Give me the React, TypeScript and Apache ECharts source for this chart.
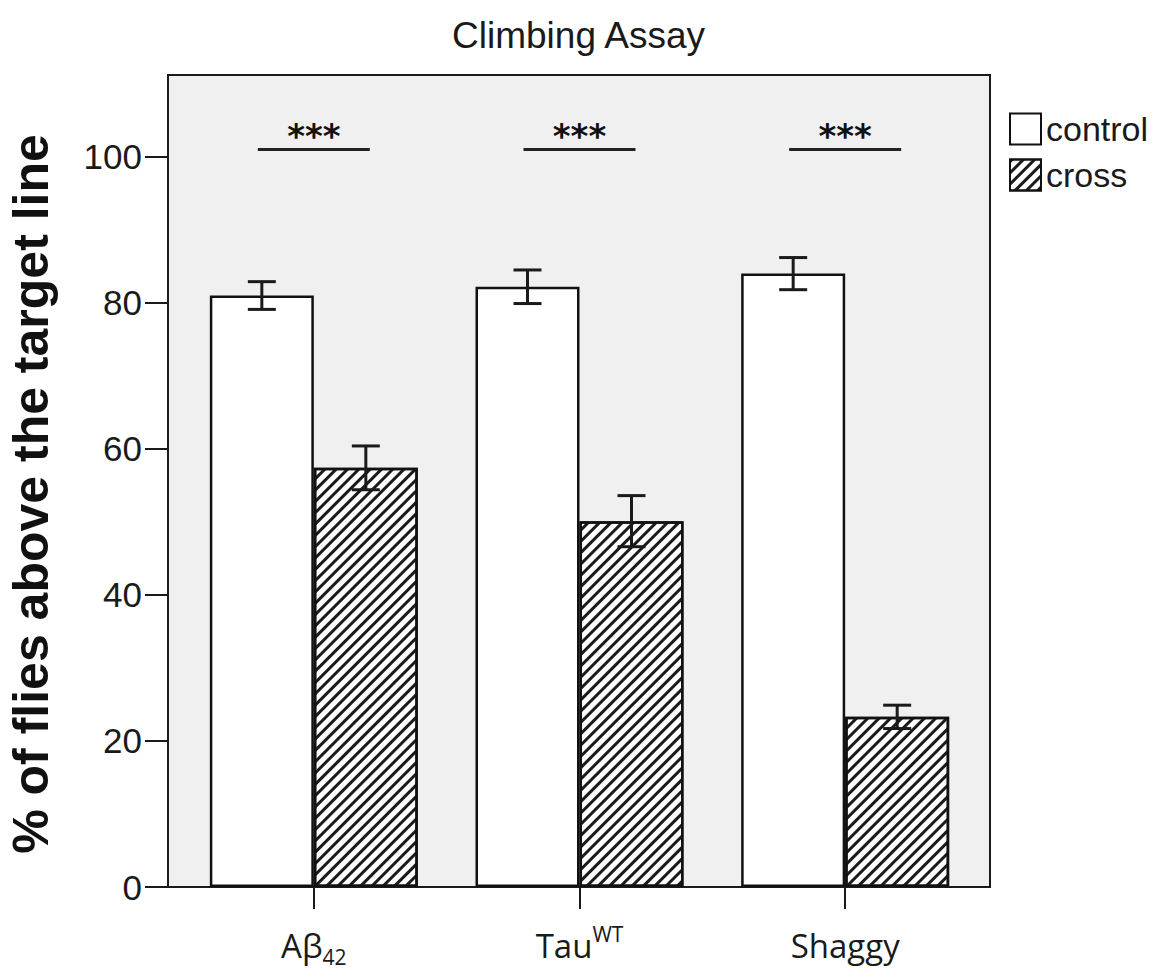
import React, { useEffect, useRef } from "react";
import * as echarts from "echarts";

const categories = ["Aβ42", "TauWT", "Shaggy"];
const controlValues = [81.0, 82.2, 84.0];
const controlErrors = [1.9, 2.3, 2.2];
const crossValues = [57.4, 50.1, 23.3];
const crossErrors = [3.0, 3.5, 1.6];
const significance = ["***", "***", "***"];
const sigLevel = 101;
const yTicks = [0, 20, 40, 60, 80, 100];

const labelRich: Record<string, string> = {
  "Aβ42": "Aβ{sub|42}",
  "TauWT": "Tau{sup|WT}",
  "Shaggy": "Shaggy",
};

const BAR_W = 104;

export default function App() {
  const ref = useRef<HTMLDivElement>(null);
  useEffect(() => {
    if (!ref.current) return;
    const chart = echarts.init(ref.current, undefined, { renderer: "svg" });
    const ink = "#1a1a1a";
    const errData: any[] = [];
    categories.forEach((_, i) => {
      errData.push([i, controlValues[i] - controlErrors[i], controlValues[i] + controlErrors[i], -1]);
      errData.push([i, crossValues[i] - crossErrors[i], crossValues[i] + crossErrors[i], 1]);
    });
    const sigData = categories.map((_, i) => [i, sigLevel]);

    chart.setOption({
      animation: false,
      backgroundColor: "#ffffff",
      title: {
        text: "Climbing Assay",
        left: "center",
        top: 12,
        textStyle: {
          fontFamily: "'Liberation Sans', Arial, sans-serif",
          fontSize: 37,
          fontWeight: "normal",
          color: ink,
        },
      },
      legend: {
        orient: "vertical",
        left: 1004,
        top: 107,
        itemWidth: 31,
        itemHeight: 31,
        itemGap: 12,
        icon: "rect",
        textStyle: {
          fontFamily: "'Liberation Sans', Arial, sans-serif",
          fontSize: 34,
          color: ink,
        },
        data: ["control", "cross"],
      },
      grid: [
        {
          left: 168,
          top: 75,
          width: 822,
          height: 812,
          show: true,
          backgroundColor: "#f0f0f0",
          borderColor: ink,
          borderWidth: 2,
          containLabel: false,
          outerBoundsMode: "none",
        },
        {
          left: 181,
          top: 75,
          width: 797,
          height: 812,
          containLabel: false,
          outerBoundsMode: "none",
        },
      ],
      xAxis: [
        { gridIndex: 0, type: "value", show: false, min: 0, max: 1 },
        {
          gridIndex: 1,
          type: "category",
          data: categories,
          axisLine: { show: false },
          axisTick: {
            show: true,
            alignWithLabel: true,
            interval: 0,
            length: 22,
            lineStyle: { color: ink, width: 2 },
          },
          axisLabel: {
            interval: 0,
            hideOverlap: false,
            margin: 36,
            formatter: (v: string) => labelRich[v] ?? v,
            color: ink,
            fontFamily: "'Open Sans', 'Noto Sans', sans-serif",
            fontSize: 33,
            lineHeight: 44,
            rich: {
              sub: {
                fontFamily: "'Open Sans', 'Noto Sans', sans-serif",
                fontSize: 21,
                lineHeight: 14,
                verticalAlign: "bottom",
                color: ink,
              },
              sup: {
                fontFamily: "'Open Sans', 'Noto Sans', sans-serif",
                fontSize: 21,
                lineHeight: 18,
                verticalAlign: "top",
                color: ink,
              },
            },
          },
        },
      ],
      yAxis: [
        {
          gridIndex: 0,
          type: "value",
          min: 0,
          max: 111.2,
          interval: 20,
          name: "% of flies above the target line",
          nameLocation: "middle",
          nameGap: 112,
          nameTextStyle: {
            fontFamily: "'Liberation Sans', Arial, sans-serif",
            fontSize: 50,
            fontWeight: "bold",
            color: "#111",
            padding: [0, 26, 0, 0],
          },
          axisLine: { show: true, lineStyle: { color: ink, width: 2 } },
          axisTick: {
            show: true,
            length: 23,
            customValues: yTicks,
            lineStyle: { color: ink, width: 2 },
          },
          axisLabel: {
            customValues: yTicks,
            margin: 26,
            color: ink,
            fontFamily: "'Liberation Sans', Arial, sans-serif",
            fontSize: 35,
          },
          splitLine: { show: false },
        },
        {
          gridIndex: 1,
          type: "value",
          min: 0,
          max: 111.2,
          show: false,
          splitLine: { show: false },
        },
      ],
      series: [
        {
          name: "control",
          type: "bar",
          xAxisIndex: 1,
          yAxisIndex: 1,
          barWidth: BAR_W,
          barGap: "0%",
          data: controlValues,
          itemStyle: { color: "#ffffff", borderColor: "#111", borderWidth: 2.5 },
        },
        {
          name: "cross",
          type: "bar",
          xAxisIndex: 1,
          yAxisIndex: 1,
          barWidth: BAR_W,
          barGap: "0%",
          data: crossValues,
          itemStyle: {
            color: "#ffffff",
            borderColor: "#111",
            borderWidth: 2.5,
            decal: {
              symbol: "rect",
              color: "#1a1a1a",
              backgroundColor: "#ffffff",
              dashArrayX: [1, 0],
              dashArrayY: [2.3, 4.6],
              rotation: -Math.PI / 4,
            },
          },
        },
        {
          type: "custom",
          xAxisIndex: 1,
          yAxisIndex: 1,
          data: errData,
          silent: true,
          z: 5,
          renderItem: (params: any, api: any) => {
            const side = api.value(3);
            const lo = api.coord([api.value(0), api.value(1)]);
            const hi = api.coord([api.value(0), api.value(2)]);
            const x = lo[0] + side * (BAR_W / 2);
            const cap = 14;
            const st = { stroke: ink, lineWidth: 3 };
            return {
              type: "group",
              children: [
                { type: "line", shape: { x1: x, y1: lo[1], x2: x, y2: hi[1] }, style: st },
                { type: "line", shape: { x1: x - cap, y1: lo[1], x2: x + cap, y2: lo[1] }, style: st },
                { type: "line", shape: { x1: x - cap, y1: hi[1], x2: x + cap, y2: hi[1] }, style: st },
              ],
            };
          },
        },
        {
          type: "custom",
          xAxisIndex: 1,
          yAxisIndex: 1,
          data: sigData,
          silent: true,
          z: 5,
          renderItem: (params: any, api: any) => {
            const p = api.coord([api.value(0), api.value(1)]);
            const half = 56;
            return {
              type: "group",
              children: [
                {
                  type: "line",
                  shape: { x1: p[0] - half, y1: p[1], x2: p[0] + half, y2: p[1] },
                  style: { stroke: "#222", lineWidth: 3 },
                },
                {
                  type: "text",
                  x: p[0],
                  y: p[1] - 13,
                  style: {
                    text: significance[params.dataIndex],
                    x: 0,
                    y: 0,
                    align: "center",
                    verticalAlign: "middle",
                    fontFamily: "'DejaVu Sans', sans-serif",
                    fontSize: 34,
                    fontWeight: "bold",
                    fill: "#111",
                  },
                },
              ],
            };
          },
        },
      ],
    });
    return () => chart.dispose();
  }, []);
  return (
    <div
      ref={ref}
      style={{ position: "fixed", left: 0, top: 0, width: 1157, height: 974 }}
    />
  );
}
